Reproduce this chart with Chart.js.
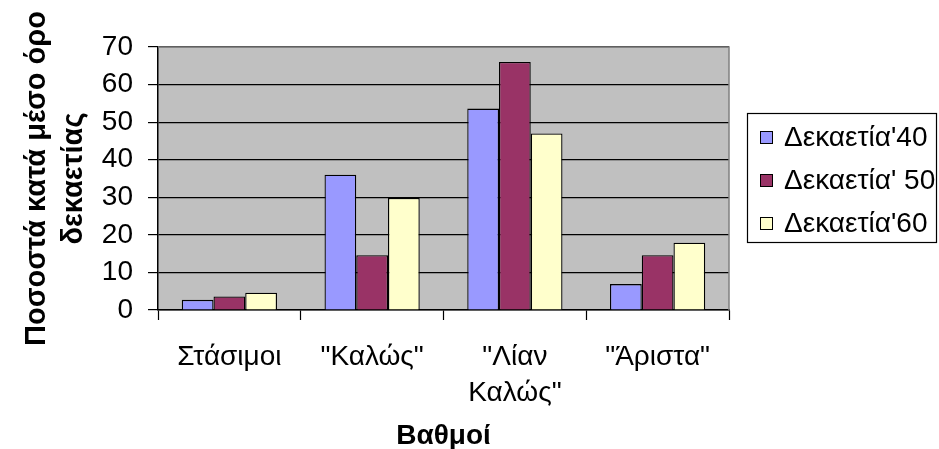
<!DOCTYPE html>
<html>
<head>
<meta charset="utf-8">
<script src="https://cdn.jsdelivr.net/npm/chart.js@4/dist/chart.umd.min.js"></script>
<style>
  html, body { margin: 0; padding: 0; background: #ffffff; }
  #wrap { width: 939px; height: 449px; position: relative; }
</style>
</head>
<body>
<div id="wrap"><canvas id="c" width="939" height="449"></canvas></div>
<script>
const categories = ['Στάσιμοι', '"Καλώς"', ['"Λίαν', 'Καλώς"'], '"Άριστα"'];
const seriesLabels = ["Δεκαετία'40", "Δεκαετία' 50", "Δεκαετία'60"];
const decade40 = [2.7, 36, 53.6, 6.9];
const decade50 = [3.6, 14.6, 66, 14.6];
const decade60 = [4.6, 29.8, 47, 17.9];
const yTicks = [0, 10, 20, 30, 40, 50, 60, 70];
const yTitle = ['Ποσοστά κατά μέσο όρο', 'δεκαετίας'];
const xTitle = 'Βαθμοί';

const FONT = "'Liberation Sans', Arial, sans-serif";
const FS = 28;
const colors = ['#9999FF', '#993366', '#FFFFCC'];

const plotBg = {
  id: 'plotBg',
  beforeDraw(chart) {
    const a = chart.chartArea, ctx = chart.ctx;
    ctx.save();
    ctx.fillStyle = '#C0C0C0';
    ctx.fillRect(a.left, a.top, a.right - a.left, a.bottom - a.top);
    ctx.restore();
  },
  afterDraw(chart) {
    const a = chart.chartArea, ctx = chart.ctx;
    ctx.save();
    ctx.strokeStyle = '#808080';
    ctx.lineWidth = 1.5;
    ctx.beginPath();
    ctx.moveTo(a.left, a.top);
    ctx.lineTo(a.right, a.top);
    ctx.lineTo(a.right, a.bottom);
    ctx.stroke();
    ctx.restore();
  }
};

const boxLegend = {
  id: 'boxLegend',
  afterDraw(chart) {
    const ctx = chart.ctx;
    const x0 = 747, y0 = 113, w = 189, h = 129;
    ctx.save();
    ctx.strokeStyle = '#000';
    ctx.lineWidth = 1.2;
    ctx.strokeRect(x0 + 0.5, y0 + 0.5, w, h);
    ctx.font = FS + 'px ' + FONT;
    ctx.textBaseline = 'middle';
    ctx.textAlign = 'left';
    chart.data.datasets.forEach((ds, i) => {
      const cy = y0 + 24.5 + i * 43;
      ctx.fillStyle = ds.backgroundColor;
      ctx.fillRect(760, cy - 6.5, 13, 13);
      ctx.strokeStyle = '#000';
      ctx.lineWidth = 1;
      ctx.strokeRect(760.5, cy - 6, 12, 12);
      ctx.fillStyle = '#000';
      ctx.fillText(ds.label, 784, cy + 1);
    });
    ctx.restore();
  }
};

new Chart(document.getElementById('c'), {
  type: 'bar',
  data: {
    labels: categories,
    datasets: [
      { label: seriesLabels[0], data: decade40, backgroundColor: colors[0] },
      { label: seriesLabels[1], data: decade50, backgroundColor: colors[1] },
      { label: seriesLabels[2], data: decade60, backgroundColor: colors[2] }
    ].map(d => Object.assign(d, { borderColor: '#000', borderWidth: 1.3, categoryPercentage: 0.667, barPercentage: 1.0 }))
  },
  options: {
    responsive: false,
    animation: false,
    devicePixelRatio: 1,
    layout: { padding: { left: 0, top: 47, right: 210, bottom: 0 } },
    plugins: { legend: { display: false }, tooltip: { enabled: false } },
    scales: {
      x: {
        grid: { display: true, drawOnChartArea: false, offset: true, color: '#000', tickLength: 10, tickWidth: 1.2 },
        border: { display: true, color: '#000', width: 1.5 },
        ticks: { color: '#000', font: { family: FONT, size: FS, lineHeight: 1.27 }, padding: 20, maxRotation: 0, autoSkip: false },
        title: { display: true, text: xTitle, color: '#000', font: { family: FONT, size: FS, weight: 'bold', lineHeight: 1 }, padding: { top: 0, bottom: -1.5 } },
        afterFit(scale) { scale.height = 449 - 310; }
      },
      y: {
        min: 0, max: 70,
        afterBuildTicks(scale) { scale.ticks = yTicks.map(v => ({ value: v })); },
        grid: { color: '#000', lineWidth: 1.2, tickLength: 10, drawTicks: true },
        border: { display: true, color: '#000', width: 1.5 },
        ticks: { color: '#000', font: { family: FONT, size: FS }, padding: 15 },
        title: { display: true, text: yTitle, color: '#000', font: { family: FONT, size: FS + 1, weight: 'bold', lineHeight: '37px' }, padding: { top: 18, bottom: 0 } },
        afterFit(scale) { scale.width = 158; }
      }
    }
  },
  plugins: [plotBg, boxLegend]
});
</script>
</body>
</html>
